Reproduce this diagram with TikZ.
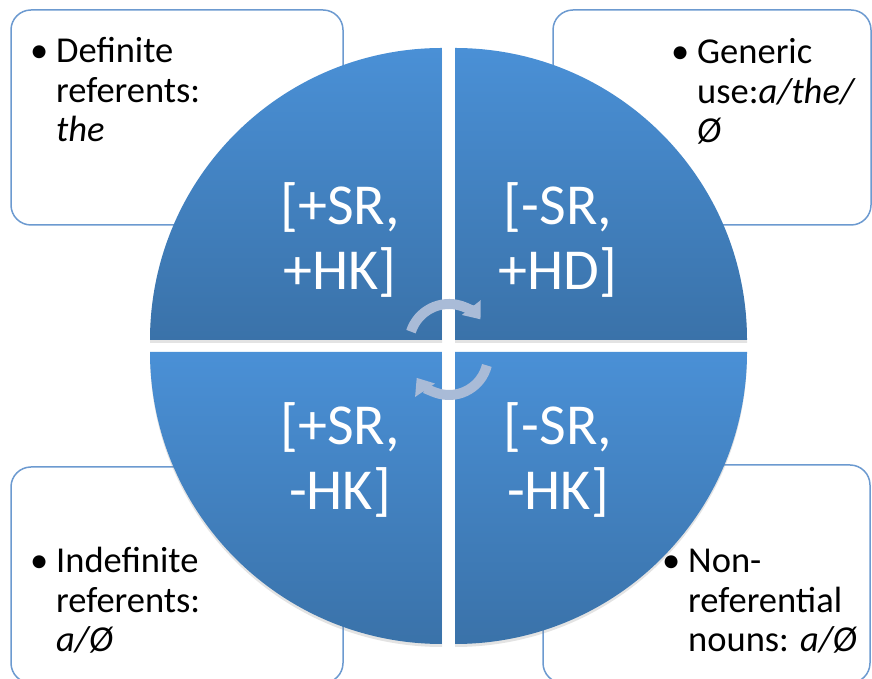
\documentclass[tikz,border=0pt]{standalone}
\usepackage{fontspec}
\setmainfont{Carlito}
\usetikzlibrary{arrows.meta,shadows}
\definecolor{boxline}{HTML}{6C9AD0}
\definecolor{qlight}{HTML}{4A90D6}
\definecolor{qdark}{HTML}{3A72A9}
\definecolor{cyccol}{HTML}{A9BBD7}
\tikzset{
  infobox/.style={draw=boxline, line width=1.5pt, fill=white, rounded corners=20pt, inner sep=0pt},
  infotext/.style={anchor=base west, align=left, inner sep=0pt, font=\fontsize{36.5}{39.5}\selectfont},
  quad/.style={top color=qlight, bottom color=qdark, drop shadow={opacity=0.22, shadow xshift=0pt, shadow yshift=-3pt}},
  quadlabel/.style={anchor=base, align=center, inner sep=0pt, text=white, font=\fontsize{58}{65}\selectfont},
  cyc/.style={draw=cyccol, line width=10pt, -{Triangle[width=23pt,length=15pt]}}
}
\newcommand{\bul}{\llap{\textbullet\hspace{8pt}}}
\begin{document}
\begin{tikzpicture}[x=1pt,y=1pt]
\useasboundingbox (0,0) rectangle (872,679);
\fill[white] (0,0) rectangle (872,679);
% boxes
\node[infobox, minimum width=332pt, minimum height=215pt] (tlbox) at (177,561.5) {};
\node[infobox, minimum width=318pt, minimum height=215pt] (trbox) at (712,561.5) {};
\node[infobox, minimum width=332pt, minimum height=216pt] (blbox) at (177,104) {};
\node[infobox, minimum width=327pt, minimum height=218pt] (brbox) at (706.5,105) {};
% box texts (anchor = baseline of last line)
\node[infotext] (tltext) at (56,537) {\bul Definite\\referents:\\\textit{the}};
\node[infotext] (trtext) at (697,536) {\bul Generic\\use:\textit{a/the/}\\\textit{Ø}};
\node[infotext] (bltext) at (56,27) {\bul Indefinite\\referents:\\\textit{a/Ø}};
\node[infotext] (brtext) at (688,27) {\bul Non-\\referential\\nouns: \textit{a/Ø}};
% quadrants
\path[quad] (442,339) -- (150,339) arc[start angle=180, end angle=90, radius=292] -- cycle;
\path[quad] (455,339) -- (455,631) arc[start angle=90, end angle=0, radius=292] -- cycle;
\path[quad] (442,327) -- (150,327) arc[start angle=180, end angle=270, radius=292] -- cycle;
\path[quad] (455,327) -- (747,327) arc[start angle=0, end angle=-90, radius=292] -- cycle;
% labels
\node[quadlabel] (q1) at (340,389) {[+SR,\\+HK]};
\node[quadlabel] (q2) at (558,389) {[-SR,\\+HD]};
\node[quadlabel] (q3) at (340,169) {[+SR,\\-HK]};
\node[quadlabel] (q4) at (558,169) {[-SR,\\-HK]};
% cycle arrows
\coordinate (ctop) at (449,335);
\coordinate (cbot) at (449,323);
\draw[cyc] ([shift={(162:40)}]ctop) arc[start angle=162, end angle=38, radius=40];
\draw[cyc] ([shift={(-14:39)}]cbot) arc[start angle=-14, end angle=-146, radius=39];
\end{tikzpicture}
\end{document}
